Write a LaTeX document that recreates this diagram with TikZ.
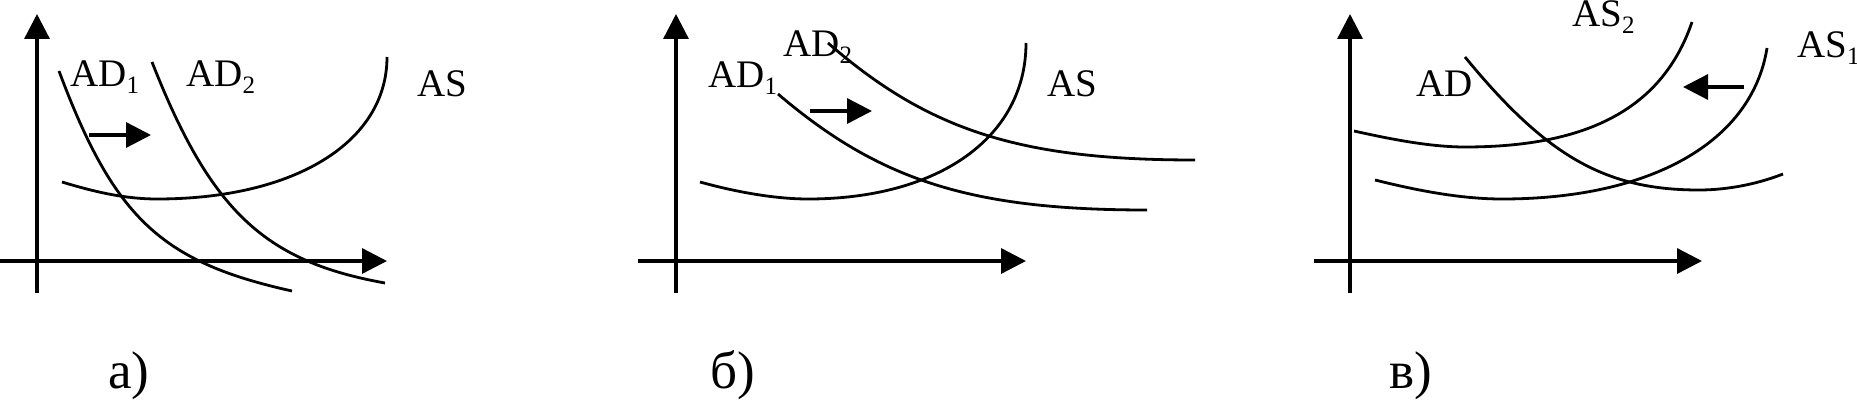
\documentclass[tikz,border=0pt]{standalone}
\usepackage{fontspec}
\setmainfont{Liberation Serif}
\usetikzlibrary{arrows.meta}
\newcommand\sbs[1]{\raisebox{-7pt}{\fontsize{25}{25}\selectfont #1}}
\begin{document}
\begin{tikzpicture}[x=1pt,y=-1pt,
  axis/.style={line width=3.4pt,-{Triangle[length=25pt,width=25pt]}},
  curve/.style={line width=2.8pt},
  shiftarr/.style={line width=3.4pt,-{Triangle[length=25pt,width=25pt]}},
  lbl/.style={anchor=base west, inner sep=0pt, font=\fontsize{39}{41}\selectfont},
  captxt/.style={anchor=base west, inner sep=0pt, font=\fontsize{53}{56}\selectfont}]
\useasboundingbox (0,0) rectangle (1857,401);
% ---------- panel a ----------
\coordinate (a-yb) at (37,293); \coordinate (a-yt) at (37,14);
\coordinate (a-xl) at (0,261);  \coordinate (a-xr) at (387,261);
\draw[axis] (a-yb) -- (a-yt);
\draw[axis] (a-xl) -- (a-xr);
\draw[curve] (59,71) .. controls (114,218) and (161,262) .. (292,291);
\draw[curve] (152,62) .. controls (210.5,210.6) and (264,261.4) .. (385,283);
\draw[curve] (62,182) .. controls (95,192) and (125,199) .. (157,199)
                      .. controls (295,199) and (387,142) .. (387,57);
\coordinate (a-s1) at (89,135); \coordinate (a-s2) at (151,135);
\draw[shiftarr] (a-s1) -- (a-s2);
\node[lbl] (a-ad1) at (70,87) {AD\sbs{1}};
\node[lbl] (a-ad2) at (186,87) {AD\sbs{2}};
\node[lbl] (a-as) at (417,97) {AS};
\node[captxt] (a-cap) at (108,388) {а)};
% ---------- panel b ----------
\coordinate (b-yb) at (676,293); \coordinate (b-yt) at (676,14);
\coordinate (b-xl) at (638,261); \coordinate (b-xr) at (1026,261);
\draw[axis] (b-yb) -- (b-yt);
\draw[axis] (b-xl) -- (b-xr);
\draw[curve] (778,94) .. controls (880,181) and (972,210) .. (1147,210);
\draw[curve] (828,43) .. controls (929,131) and (1021,160) .. (1195,160);
\draw[curve] (700,182) .. controls (736,192) and (775,199) .. (808,199)
                       .. controls (939,199) and (1026,137) .. (1026,43);
\coordinate (b-s1) at (810,111); \coordinate (b-s2) at (872,111);
\draw[shiftarr] (b-s1) -- (b-s2);
\node[lbl] (b-ad1) at (708,88) {AD\sbs{1}};
\node[lbl] (b-ad2) at (783,57) {AD\sbs{2}};
\node[lbl] (b-as) at (1047,97) {AS};
\node[captxt] (b-cap) at (710,388) {б)};
% ---------- panel c ----------
\coordinate (c-yb) at (1350,293); \coordinate (c-yt) at (1350,14);
\coordinate (c-xl) at (1314,261); \coordinate (c-xr) at (1702,261);
\draw[axis] (c-yb) -- (c-yt);
\draw[axis] (c-xl) -- (c-xr);
\draw[curve] (1354,131) .. controls (1390,139) and (1430,147) .. (1465,147)
                        .. controls (1590,147) and (1663,107) .. (1692,22);
\draw[curve] (1375,180) .. controls (1415,190) and (1460,199) .. (1502,199)
                        .. controls (1651,199) and (1752,142) .. (1767,48);
\draw[curve] (1465,57) .. controls (1547,157) and (1606,190) .. (1699,190)
                       .. controls (1730,190) and (1760,183) .. (1783,174);
\coordinate (c-s1) at (1744,87); \coordinate (c-s2) at (1683,87);
\draw[shiftarr] (c-s1) -- (c-s2);
\node[lbl] (c-as2) at (1572,27) {AS\sbs{2}};
\node[lbl] (c-as1) at (1797,58) {AS\sbs{1}};
\node[lbl] (c-ad) at (1416,97) {AD};
\node[captxt] (c-cap) at (1389,388) {в)};
\end{tikzpicture}
\end{document}
